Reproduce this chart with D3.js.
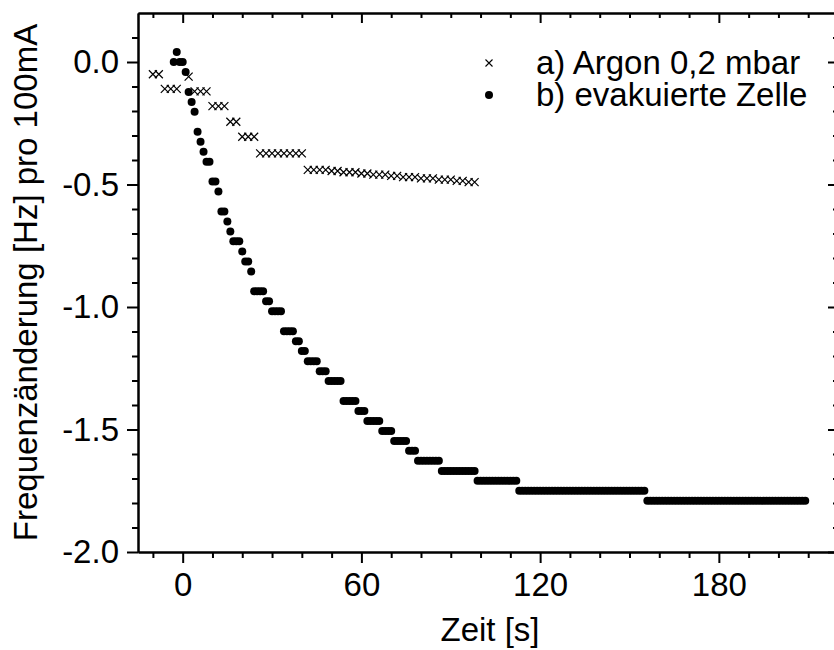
<!DOCTYPE html>
<html>
<head>
<meta charset="utf-8">
<script src="https://cdn.jsdelivr.net/npm/d3@7"></script>
<style>
body { margin: 0; background: #fff; }
text { font-family: "Liberation Sans", Arial, sans-serif; }
</style>
</head>
<body>
<div id="chart"></div>
<script>
// a) Argon 0,2 mbar  (Kreuze)
var argonZeit = [-10, -8, -6, -4, -2, 2, 4, 6, 8, 10, 12, 14, 16, 18, 20, 22, 24,
    26, 28, 30, 32, 34, 36, 38, 40,
    42, 44, 46, 48, 50, 52, 54, 56, 58, 60, 62, 64, 66, 68, 70, 72, 74, 76, 78,
    80, 82, 84, 86, 88, 90, 92, 94, 96, 98];
var argonFreq = [-0.05, -0.05, -0.11, -0.11, -0.11, -0.06, -0.12, -0.12, -0.12,
    -0.18, -0.18, -0.18, -0.244, -0.244, -0.305, -0.305, -0.305,
    -0.373, -0.373, -0.373, -0.373, -0.373, -0.373, -0.373, -0.373,
    -0.44, -0.44, -0.44, -0.44, -0.445, -0.445, -0.45, -0.45, -0.45, -0.455,
    -0.455, -0.46, -0.46, -0.46, -0.465, -0.465, -0.47, -0.47, -0.47,
    -0.475, -0.475, -0.475, -0.48, -0.48, -0.48, -0.485, -0.485, -0.49, -0.49];

// b) evakuierte Zelle (Punkte), one sample per second from -3 s to 209 s
var zelleZeit = d3.range(-3, 210);
var zelleFreq = [0, 0.041, 0, 0, -0.041, -0.122, -0.163, -0.203, -0.285, -0.326,
    -0.366, -0.407, -0.407, -0.488, -0.488, -0.529, -0.61, -0.61, -0.651, -0.692,
    -0.732, -0.732, -0.732, -0.773, -0.814, -0.814, -0.855,
    -0.936, -0.936, -0.936, -0.936, -0.977, -0.977,
    -1.017, -1.017, -1.017, -1.017, -1.099, -1.099, -1.099, -1.099,
    -1.14, -1.14, -1.18, -1.18, -1.221, -1.221, -1.221, -1.221,
    -1.262, -1.262, -1.262, -1.302, -1.302, -1.302, -1.302, -1.302,
    -1.384, -1.384, -1.384, -1.384, -1.384, -1.424, -1.424, -1.424,
    -1.465, -1.465, -1.465, -1.465, -1.465, -1.506, -1.506, -1.506, -1.506,
    -1.547, -1.547, -1.547, -1.547, -1.547, -1.587, -1.587, -1.587,
    -1.628, -1.628, -1.628, -1.628, -1.628, -1.628, -1.628, -1.628,
    -1.669, -1.669, -1.669, -1.669, -1.669, -1.669, -1.669, -1.669, -1.669, -1.669, -1.669, -1.669,
    -1.709, -1.709, -1.709, -1.709, -1.709, -1.709, -1.709, -1.709, -1.709, -1.709, -1.709, -1.709, -1.709, -1.709,
    -1.75, -1.75, -1.75, -1.75, -1.75, -1.75, -1.75, -1.75, -1.75, -1.75,
    -1.75, -1.75, -1.75, -1.75, -1.75, -1.75, -1.75, -1.75, -1.75, -1.75,
    -1.75, -1.75, -1.75, -1.75, -1.75, -1.75, -1.75, -1.75, -1.75, -1.75,
    -1.75, -1.75, -1.75, -1.75, -1.75, -1.75, -1.75, -1.75, -1.75, -1.75,
    -1.75, -1.75, -1.75,
    -1.791, -1.791, -1.791, -1.791, -1.791, -1.791, -1.791, -1.791, -1.791, -1.791,
    -1.791, -1.791, -1.791, -1.791, -1.791, -1.791, -1.791, -1.791, -1.791, -1.791,
    -1.791, -1.791, -1.791, -1.791, -1.791, -1.791, -1.791, -1.791, -1.791, -1.791,
    -1.791, -1.791, -1.791, -1.791, -1.791, -1.791, -1.791, -1.791, -1.791, -1.791,
    -1.791, -1.791, -1.791, -1.791, -1.791, -1.791, -1.791, -1.791, -1.791, -1.791,
    -1.791, -1.791, -1.791, -1.791];

var xTicks = [0, 60, 120, 180];
var yTicks = [0.0, -0.5, -1.0, -1.5, -2.0];
var legendLabels = ["a) Argon 0,2 mbar", "b) evakuierte Zelle"];
var xTitle = "Zeit [s]";
var yTitle = "Frequenzänderung [Hz] pro 100mA";

var width = 834, height = 650;
var plotL = 138, plotR = 838, plotT = 13, plotB = 552;
var fontSize = 33;

var svg = d3.select("#chart").append("svg")
    .attr("width", width)
    .attr("height", height);

var x = d3.scaleLinear().domain([-15, 220]).range([plotL, plotR]);
var y = d3.scaleLinear().domain([-2.0, 0.2]).range([plotB, plotT]);

var xMinor = d3.range(-10, 221, 10).filter(function(d) { return xTicks.indexOf(d) < 0; });
var yMinor = d3.range(-19, 2).filter(function(d) { return d % 5 !== 0; })
    .map(function(d) { return d / 10; });

function styleAxis(g) {
    g.selectAll("path, line").attr("stroke", "#000").attr("stroke-width", 2);
    g.selectAll("text").attr("font-size", fontSize).attr("fill", "#000")
        .attr("font-family", "Liberation Sans, Arial, sans-serif");
}

// bottom
svg.append("g").attr("transform", "translate(0," + plotB + ")")
    .call(d3.axisBottom(x).tickValues(xMinor).tickSize(6).tickSizeOuter(0).tickFormat(""))
    .call(styleAxis);
svg.append("g").attr("transform", "translate(0," + plotB + ")")
    .call(d3.axisBottom(x).tickValues(xTicks).tickSize(11).tickSizeOuter(0).tickPadding(10))
    .call(styleAxis);
// top
svg.append("g").attr("transform", "translate(0," + plotT + ")")
    .call(d3.axisTop(x).tickValues(xMinor).tickSize(-5).tickSizeOuter(0).tickFormat(""))
    .call(styleAxis);
svg.append("g").attr("transform", "translate(0," + plotT + ")")
    .call(d3.axisTop(x).tickValues(xTicks).tickSize(-10).tickSizeOuter(0).tickFormat(""))
    .call(styleAxis);
// left
svg.append("g").attr("transform", "translate(" + plotL + ",0)")
    .call(d3.axisLeft(y).tickValues(yMinor).tickSize(6).tickSizeOuter(0).tickFormat(""))
    .call(styleAxis);
svg.append("g").attr("transform", "translate(" + plotL + ",0)")
    .call(d3.axisLeft(y).tickValues(yTicks).tickSize(11).tickSizeOuter(0).tickPadding(8)
        .tickFormat(function(d) { return d3.format(".1f")(d).replace("\u2212", "-"); }))
    .call(styleAxis);
// right
svg.append("g").attr("transform", "translate(" + plotR + ",0)")
    .call(d3.axisRight(y).tickValues(yMinor).tickSize(-5).tickSizeOuter(0).tickFormat(""))
    .call(styleAxis);
svg.append("g").attr("transform", "translate(" + plotR + ",0)")
    .call(d3.axisRight(y).tickValues(yTicks).tickSize(-10).tickSizeOuter(0).tickFormat(""))
    .call(styleAxis);

// data: dots
svg.append("g").selectAll("circle")
    .data(zelleZeit.map(function(t, i) { return [t, zelleFreq[i]]; }))
    .enter().append("circle")
    .attr("cx", function(d) { return x(d[0]); })
    .attr("cy", function(d) { return y(d[1]); })
    .attr("r", 4)
    .attr("fill", "#000");

// data: crosses
var cross = "M-4,-4L4,4M-4,4L4,-4";
svg.append("g").selectAll("path")
    .data(argonZeit.map(function(t, i) { return [t, argonFreq[i]]; }))
    .enter().append("path")
    .attr("transform", function(d) { return "translate(" + x(d[0]) + "," + y(d[1]) + ")"; })
    .attr("d", cross)
    .attr("fill", "none")
    .attr("stroke", "#000")
    .attr("stroke-width", 1.2);

// legend
var legend = svg.append("g").attr("transform", "translate(489,63)");
legend.append("path")
    .attr("d", "M-3.5,-3.5L3.5,3.5M-3.5,3.5L3.5,-3.5")
    .attr("stroke", "#000").attr("stroke-width", 1.1).attr("fill", "none");
legend.append("circle").attr("cy", 32).attr("r", 4).attr("fill", "#000");
legend.selectAll("text")
    .data(legendLabels)
    .enter().append("text")
    .attr("x", 47)
    .attr("y", function(d, i) { return i * 32 + 11; })
    .attr("font-size", fontSize)
    .text(function(d) { return d; });

// axis titles
svg.append("text")
    .attr("x", 490)
    .attr("y", 641)
    .attr("text-anchor", "middle")
    .attr("font-size", fontSize)
    .text(xTitle);
svg.append("text")
    .attr("transform", "translate(37," + (plotT + plotB) / 2 + ") rotate(-90)")
    .attr("text-anchor", "middle")
    .attr("font-size", fontSize)
    .text(yTitle);
</script>
</body>
</html>
